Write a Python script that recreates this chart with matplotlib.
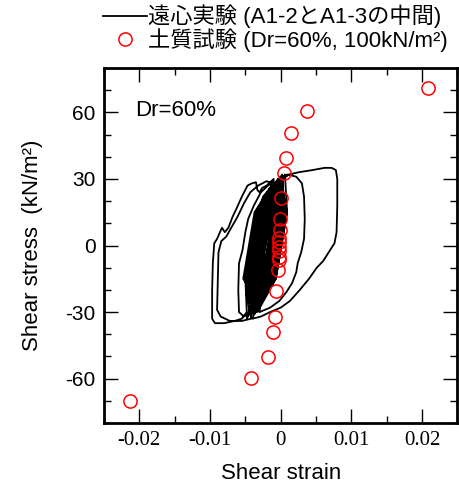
import matplotlib
matplotlib.use("Agg")
import matplotlib.pyplot as plt
from matplotlib.ticker import MultipleLocator, FuncFormatter

plt.rcParams['font.family'] = ['Liberation Sans', 'Noto Sans CJK JP', 'DejaVu Sans']
plt.rcParams['axes.unicode_minus'] = False

# centrifuge test trace (shear strain, shear stress kN/m2)
cf_points = [
    # first small cycles
    (0.0000, 0), (-0.0004, 6), (-0.0008, 10), (-0.0012, 12), (-0.0016, 8), (-0.0021, 0),
    (-0.0027, -10), (-0.0029, -15), (-0.0024, -10), (-0.0017, 0), (-0.0010, 10), (-0.0007, 18),
    (-0.0012, 15), (-0.0020, 5), (-0.0028, -8), (-0.0033, -18), (-0.0031, -22), (-0.0023, -12),
    (-0.0015, 0), (-0.0007, 12), (-0.0003, 22),
    # dense band
    (-0.0036, -28), (-0.0016, -15), (-0.0008, 0), (0.0000, 15), (-0.0004, 29), (-0.0024, 15), (-0.0032, 0), (-0.0040, -15),
    (-0.0038, -30), (-0.0027, -22), (-0.0015, -8), (-0.0007, 8), (-0.0003, 22), (-0.0004, 30),
    (-0.0015, 22), (-0.0027, 8), (-0.0035, -8), (-0.0039, -22),
    (-0.0033, -28), (-0.0021, -22), (-0.0007, -8), (0.0001, 8), (0.0003, 22), (0.0000, 31),
    (-0.0013, 22), (-0.0027, 8), (-0.0035, -8), (-0.0037, -22),
    (-0.0042, -31), (-0.0018, -15), (-0.0010, 0), (-0.0002, 15), (-0.0010, 27), (-0.0034, 15), (-0.0042, 0), (-0.0050, -15),
    # wide excursion to the left
    (-0.0048, -30), (-0.0055, -33), (-0.0065, -34), (-0.0080, -35), (-0.0093, -35), (-0.0097, -33),
    (-0.0097, -20), (-0.0096, -8), (-0.0094, 1), (-0.0090, 3), (-0.0086, 6), (-0.0083, 8),
    (-0.0079, 6), (-0.0074, 8), (-0.0068, 13), (-0.0062, 17), (-0.0055, 22), (-0.0047, 27),
    (-0.0041, 28), (-0.0035, 28.5), (-0.0033, 25), (-0.0030, 24), (-0.0026, 26), (-0.0020, 27),
    (-0.0010, 30),
    (-0.0017, 15), (-0.0025, 0), (-0.0033, -15),
    (-0.0046, -32), (-0.0026, -15), (-0.0018, 0), (-0.0010, 15), (-0.0014, 26), (-0.0034, 15), (-0.0042, 0), (-0.0050, -15),
    (-0.0044, -31), (-0.0032, -22), (-0.0019, -8), (-0.0011, 8), (-0.0008, 22), (-0.0010, 28),
    (-0.0022, 22), (-0.0035, 8), (-0.0043, -8), (-0.0046, -22),
    (-0.0031, -27), (-0.0022, -22), (-0.0011, -8), (-0.0003, 8), (0.0002, 22), (0.0002, 31),
    (-0.0008, 22), (-0.0019, 8), (-0.0027, -8), (-0.0032, -22),
    (-0.0033, -30), (-0.0007, -15), (0.0001, 0), (0.0009, 15), (-0.0001, 30), (-0.0027, 15), (-0.0035, 0), (-0.0043, -15),
    # second left excursion
    (-0.0042, -33), (-0.0055, -34), (-0.0072, -34), (-0.0085, -32), (-0.0090, -29), (-0.0089, -15),
    (-0.0088, -3), (-0.0084, 2), (-0.0077, 4), (-0.0070, 8), (-0.0061, 13), (-0.0052, 19),
    (-0.0043, 24), (-0.0032, 27), (-0.0020, 29), (-0.0012, 28),
    (-0.0024, 15), (-0.0032, 0), (-0.0040, -15),
    (-0.0028, -26), (-0.0007, -15), (0.0001, 0), (0.0009, 15), (0.0006, 32), (-0.0017, 15), (-0.0025, 0), (-0.0033, -15),
    (-0.0039, -30), (-0.0025, -22), (-0.0010, -8), (-0.0002, 8), (-0.0001, 22), (-0.0005, 29),
    (-0.0021, 22), (-0.0036, 8), (-0.0044, -8), (-0.0045, -22),
    (-0.0036, -29), (-0.0024, -22), (-0.0012, -8), (-0.0004, 8), (0.0000, 22), (-0.0002, 30),
    (-0.0014, 22), (-0.0026, 8), (-0.0034, -8), (-0.0038, -22),
    (-0.0048, -33), (-0.0030, -15), (-0.0022, 0), (-0.0014, 15), (-0.0016, 25), (-0.0034, 15), (-0.0042, 0), (-0.0050, -15),
    # medium left excursion
    (-0.0040, -30), (-0.0052, -32), (-0.0059, -30), (-0.0060, -20), (-0.0059, -8), (-0.0054, -2),
    (-0.0050, 6), (-0.0046, 12), (-0.0038, 18), (-0.0028, 24), (-0.0018, 27), (-0.0010, 29),
    (-0.0034, 15), (-0.0042, 0), (-0.0050, -15),
    (-0.0034, -28), (-0.0019, -15), (-0.0011, 0), (-0.0003, 15), (0.0003, 30),
    # wide excursion to the right
    (0.0012, 32), (0.0025, 33), (0.0045, 34), (0.0062, 35), (0.0072, 35), (0.0078, 34),
    (0.0080, 30), (0.0080, 18), (0.0079, 6), (0.0076, 1), (0.0068, -3), (0.0060, -7),
    (0.0051, -10), (0.0040, -15), (0.0027, -20), (0.0013, -25), (0.0000, -28), (-0.0015, -30),
    (-0.0028, -32), (-0.0040, -33),
    (-0.0021, -15), (-0.0013, 0), (-0.0005, 15), (-0.0012, 27), (-0.0035, 15), (-0.0043, 0), (-0.0051, -15),
    (-0.0032, -29), (-0.0010, -15), (-0.0002, 0), (0.0006, 15), (0.0002, 31), (-0.0022, 15), (-0.0030, 0), (-0.0038, -15),
    (-0.0042, -32), (-0.0032, -22), (-0.0020, -8), (-0.0012, 8), (-0.0008, 22), (-0.0009, 27),
    (-0.0019, 22), (-0.0030, 8), (-0.0038, -8), (-0.0043, -22),
    (-0.0035, -29), (-0.0020, -22), (-0.0006, -8), (0.0002, 8), (0.0004, 22), (0.0000, 31),
    (-0.0016, 22), (-0.0030, 8), (-0.0038, -8), (-0.0040, -22),
    (-0.0041, -30), (-0.0022, -15), (-0.0014, 0), (-0.0006, 15), (-0.0009, 28), (-0.0028, 15), (-0.0036, 0), (-0.0044, -15),
    (-0.0037, -31), (-0.0011, -15), (-0.0003, 0), (0.0005, 15), (0.0000, 31),
    # inner right excursion
    (0.0010, 32), (0.0022, 31), (0.0030, 28), (0.0033, 22), (0.0034, 12), (0.0033, 3),
    (0.0029, -3), (0.0024, -8), (0.0022, -12), (0.0016, -17), (0.0008, -21), (-0.0002, -25),
    (-0.0015, -28), (-0.0030, -30),
    (-0.0025, -15), (-0.0017, 0), (-0.0009, 15), (-0.0015, 26), (-0.0037, 15), (-0.0045, 0), (-0.0053, -15),
    (-0.0030, -27), (-0.0013, -15), (-0.0005, 0), (0.0003, 15), (0.0003, 31), (-0.0015, 15), (-0.0023, 0), (-0.0031, -15),
    (-0.0046, -31), (-0.0033, -22), (-0.0020, -8), (-0.0012, 8), (-0.0009, 22), (-0.0012, 27),
    (-0.0025, 22), (-0.0038, 8), (-0.0046, -8), (-0.0049, -22),
    (-0.0037, -30), (-0.0028, -22), (-0.0017, -8), (-0.0009, 8), (-0.0004, 22), (-0.0003, 30),
    (-0.0012, 22), (-0.0023, 8), (-0.0031, -8), (-0.0036, -22),
    (-0.0039, -29), (-0.0018, -15), (-0.0010, 0), (-0.0002, 15), (-0.0006, 29), (-0.0028, 15), (-0.0036, 0), (-0.0044, -15),
    (-0.0032, -28), (-0.0021, -22), (-0.0008, -8), (0.0000, 8), (0.0003, 22), (0.0002, 32),
    (-0.0011, 22), (-0.0024, 8), (-0.0032, -8), (-0.0035, -22),
    (-0.0040, -30), (-0.0027, -22), (-0.0013, -8), (-0.0005, 8), (-0.0003, 22), (-0.0006, 29),
    (-0.0021, 22), (-0.0035, 8), (-0.0043, -8), (-0.0045, -22),
    (-0.0035, -30), (-0.0008, -15), (0.0000, 0), (0.0008, 15), (0.0000, 31), (-0.0030, 15), (-0.0038, 0), (-0.0046, -15),
    (-0.0040, -25), (-0.0030, -12), (-0.0024, -5),
]
cf_strain = [p[0] for p in cf_points]
cf_stress = [p[1] for p in cf_points]

# laboratory test points
lab_strain = [-0.0213, -0.0042, -0.0018, -0.0011, -0.0008, -0.0006, -0.0004, -0.0003, -0.0003,
              -0.0002, -0.0002, -0.0002, -0.0002, -0.0001, -0.0001, 0.0001, 0.0004, 0.0007,
              0.0014, 0.0037, 0.0208]
lab_stress = [-70.3, -59.7, -50.3, -39.1, -32.1, -20.5, -11.2, -6.5, -5.0,
              -2.5, -0.5, 1.5, 3.5, 7.0, 11.9, 21.2, 32.8, 39.5,
              50.7, 60.4, 71.2]

fig = plt.figure(figsize=(4.6, 4.83), dpi=100)
ax = fig.add_axes([0.226, 0.1242, 0.7685, 0.735])

line, = ax.plot(cf_strain, cf_stress, color='black', lw=1.3,
                label='遠心実験 (A1-2とA1-3の中間)')
pts, = ax.plot(lab_strain, lab_stress, 'o', ms=9.5, mfc='none', mec='red', mew=1.1,
               label='土質試験 (Dr=60%, 100kN/m²)')

ax.set_xlim(-0.025, 0.025)
ax.set_ylim(-80, 80)
ax.xaxis.set_major_locator(MultipleLocator(0.01))
ax.xaxis.set_minor_locator(MultipleLocator(0.005))
ax.yaxis.set_major_locator(MultipleLocator(30))
ax.yaxis.set_minor_locator(MultipleLocator(10))
ax.xaxis.set_major_formatter(FuncFormatter(lambda v, p: '%g' % round(v, 4)))
ax.yaxis.set_major_formatter(FuncFormatter(lambda v, p: '%g' % v))

ax.tick_params(which='both', direction='in', top=True, right=True, width=1)
ax.tick_params(which='major', length=10)
ax.tick_params(which='minor', length=5)
ax.tick_params(axis='x', labelsize=15, pad=6, labelfontfamily='Liberation Serif')
ax.tick_params(axis='y', labelsize=15, pad=6)
for s in ax.spines.values():
    s.set_linewidth(2)

ax.set_xlabel('Shear strain', fontsize=16, labelpad=9)
ax.set_ylabel('Shear stress  (kN/m²)', fontsize=16, labelpad=16)
ax.text(0.088, 0.88, 'Dr=60%', transform=ax.transAxes, fontsize=16, va='center')

ax.legend(handles=[line, pts], loc='lower left', bbox_to_anchor=(-0.003, 1.045),
          frameon=False, fontsize=16, handlelength=2.0, handletextpad=0.05,
          labelspacing=0.0, borderaxespad=0, borderpad=0)

fig.savefig('out.png', dpi=100)
